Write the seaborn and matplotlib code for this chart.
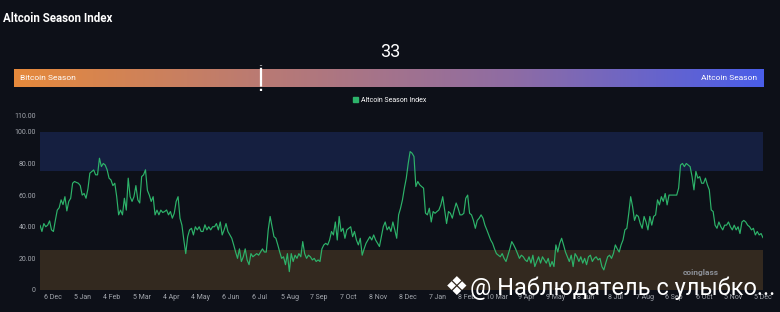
import matplotlib
matplotlib.use("Agg")
import matplotlib.pyplot as plt
from matplotlib.colors import LinearSegmentedColormap
from matplotlib.patches import Patch
import numpy as np
import pandas as pd
import seaborn as sns

# ---------------- data ----------------
title = "Altcoin Season Index"
current_value = 33
series_name = "Altcoin Season Index"

seg_dec23_apr24 = [41, 37, 42, 40, 41, 43.7, 38, 37, 44, 50.5, 52, 57, 54, 59, 50, 56, 58, 67.5, 68.6, 68,
                   67.5, 66, 60, 61, 58, 64, 73.9, 74.9, 75.9, 72.8, 72.8, 83.3, 78, 80, 79, 76, 70.7, 69.6,
                   66, 67.5, 59, 47.5, 50.5, 47.5, 58, 50.5, 70.7, 59, 56, 59, 66, 57, 55, 71.7, 72.8, 76,
                   63, 60, 56, 59, 47.5, 50.5, 47.5, 50.5, 49]
seg_apr24_jul24 = [49.6, 50.6, 47.5, 49.6, 45.4, 48.5, 56, 59, 45.4, 41, 31.6, 23, 33.7, 38, 39, 34.8, 40,
                   38, 40, 37, 37, 41.2, 38, 40, 38, 40, 40, 42, 38, 43, 34.8, 38, 42, 37, 34.8, 32.7, 28.5,
                   24, 20, 26, 18, 21, 26, 19, 16, 23, 21, 22, 23, 22, 24, 26, 24, 24, 38, 46.5, 40, 33.7,
                   32.7, 28.5, 24, 20]
seg_jul24_nov24 = [21, 16, 23, 11.6, 23, 18, 22, 20, 23, 21, 30.6, 23, 20, 22, 21, 19, 20, 18, 19, 18, 26,
                   28.5, 29.5, 28.5, 31.6, 37, 34.8, 43, 31.6, 46.5, 37, 39, 32.7, 38, 39, 40, 33.7, 37,
                   31.6, 28.5, 32.7, 22, 26, 29.5, 31.6, 33.7, 31.6, 34.8, 31.6, 29.5, 27.5, 33.7, 40, 43,
                   38, 40, 37, 43, 38, 32.7, 47.5, 51.7, 57, 64.4, 70.7]
seg_nov24_mar25 = [80, 87.5, 86.5, 84.4, 65.4, 68.6, 66.5, 65.4, 64.4, 48.6, 47.5, 51.7, 43, 49.6, 48.5,
                   49.6, 50.6, 53.8, 59, 50.6, 42, 49.6, 48.5, 45.4, 50.6, 55, 51.7, 47.5, 47.5, 48.5, 58,
                   60, 48.5, 47.5, 44, 39, 44, 45.4, 47.5, 45.4, 41, 38, 34.8, 31.6, 29.5, 26, 23, 22, 21,
                   23, 20, 18, 22, 26, 30.6, 28.5, 26, 23, 20, 22, 21, 19]
seg_mar25_jul25 = [18, 21, 17, 22, 14.8, 18, 21, 17, 21, 19, 17, 20, 14.8, 18, 14.8, 28.5, 24, 29.5, 32.7,
                   28.5, 24, 21, 18, 22, 14.8, 23, 21, 18, 21, 17, 20, 16, 21, 22, 18, 20, 21, 19, 20, 14.8,
                   12.7, 17, 21, 22, 20, 23, 28.5, 26, 24, 28.5, 31.6, 38, 39, 48.5, 59, 52.7, 44, 47.5,
                   46.5, 42, 39]
seg_jul25_dec25 = [46.5, 43, 38, 46.5, 41, 46.5, 47.5, 57, 53.8, 59, 56, 61, 53.8, 60, 60, 60, 60, 60, 64.4,
                   79, 80, 78, 80, 79, 78, 71.7, 63.3, 75, 70.7, 71.7, 67.5, 67.5, 70.7, 66.5, 63.3, 50.6,
                   49.6, 41, 39, 43, 40, 38, 41, 41, 43, 40, 38, 41, 38, 40, 35.7, 43, 44, 43, 41, 40, 38,
                   39, 34.8, 37, 34.8, 35.7, 33]

x_tick_labels = ["6 Dec", "5 Jan", "4 Feb", "5 Mar", "4 Apr", "4 May", "6 Jun", "6 Jul", "5 Aug",
                 "7 Sep", "7 Oct", "8 Nov", "8 Dec", "7 Jan", "8 Feb", "10 Mar", "9 Apr", "9 May",
                 "8 Jun", "8 Jul", "7 Aug", "6 Sep", "6 Oct", "5 Nov", "5 Dec"]
y_ticks = [0, 20, 40, 60, 80, 100, 110]
y_tick_labels = ["0", "20.00", "40.00", "60.00", "80.00", "100.00", "110.00"]
bitcoin_zone = (0, 25)
altcoin_zone = (75, 100)

values = (seg_dec23_apr24 + seg_apr24_jul24 + seg_jul24_nov24 +
          seg_nov24_mar25 + seg_mar25_jul25 + seg_jul25_dec25)
n_days = 734          # daily points covered by the chart
first_tick_day = 13
tick_step = 30
days = np.linspace(0, n_days - 1, len(values))
df = pd.DataFrame({"day": days, "index": values})
tick_pos = [first_tick_day + tick_step * i for i in range(len(x_tick_labels))]

# ---------------- style ----------------
bg = "#0d1018"
green = "#2db36a"
tick_gray = "#a3a7ae"
sns.set_theme(style="dark")
plt.rcParams["font.family"] = ["Roboto", "DejaVu Sans"]

fig = plt.figure(figsize=(7.8, 3.12), dpi=100, facecolor=bg)

# title, value
fig.text(3 / 780, 1 - 18 / 312, title, color="white", fontsize=8.3, fontweight="bold",
         ha="left", va="center")
fig.text(390 / 780, 1 - 52 / 312, str(current_value), color="white", fontsize=13,
         ha="center", va="center")

# gradient bar
bar_ax = fig.add_axes([14 / 780, 1 - 87 / 312, 749 / 780, 18 / 312])
cmap = LinearSegmentedColormap.from_list("season", ["#e68a3c", "#b97a74", "#8e6ca4", "#4a5ee9"])
grad = np.linspace(0, 1, 512).reshape(1, -1)
bar_ax.imshow(grad, cmap=cmap, aspect="auto", extent=(0, 100, 0, 1))
bar_ax.set_xlim(0, 100)
bar_ax.set_ylim(0, 1)
bar_ax.axis("off")
bar_ax.plot([current_value, current_value], [0.05, 0.95], color="white", lw=1.6, solid_capstyle="butt")
bar_ax.plot([current_value, current_value], [-0.2, 0.05], color="white", lw=1.6, ls=(0, (1, 1)),
            clip_on=False)
bar_ax.plot([current_value, current_value], [0.95, 1.2], color="white", lw=1.6, ls=(0, (1, 1)),
            clip_on=False)
bar_ax.text(0.008, 0.5, "Bitcoin Season", color="white", fontsize=6, ha="left", va="center",
            transform=bar_ax.transAxes)
bar_ax.text(0.992, 0.5, "Altcoin Season", color="white", fontsize=6, ha="right", va="center",
            transform=bar_ax.transAxes)

# main chart
ax = fig.add_axes([40 / 780, 22 / 312, 723 / 780, 174 / 312])
ax.set_facecolor(bg)
ax.axhspan(*altcoin_zone, color="#151f40", lw=0, zorder=0)
ax.axhspan(*bitcoin_zone, color="#33291f", lw=0, zorder=0)
sns.lineplot(data=df, x="day", y="index", ax=ax, color=green, lw=0.85, zorder=3)
ax.set_xlim(0, n_days - 1)
ax.set_ylim(0, 110)
ax.set_yticks(y_ticks)
ax.set_yticklabels(y_tick_labels)
ax.set_xticks(tick_pos)
ax.set_xticklabels(x_tick_labels)
ax.tick_params(length=0, colors=tick_gray, labelsize=5, pad=3)
ax.set_xlabel("")
ax.set_ylabel("")
ax.grid(False)
for s in ax.spines.values():
    s.set_visible(False)

fig.legend(handles=[Patch(color=green)], labels=[series_name], loc="center",
           bbox_to_anchor=(390 / 780, 1 - 100 / 312), frameon=False, fontsize=5,
           labelcolor="white", handlelength=0.7, handleheight=0.7, handletextpad=0.4)

# watermarks
fig.text(683 / 780, 1 - 272 / 312, "coinglass", color="#8c9098", fontsize=6, fontweight="bold",
         ha="left", va="center")
fig.text(457 / 780, 1 - 288 / 312, "❖", color="white", fontsize=19, ha="center", va="center",
         family=["DejaVu Sans"])
fig.text(470 / 780, 1 - 288 / 312, "@ Наблюдатель с улыбко...", color="white", fontsize=17,
         ha="left", va="center")

fig.savefig("out.png", dpi=100, facecolor=bg)
